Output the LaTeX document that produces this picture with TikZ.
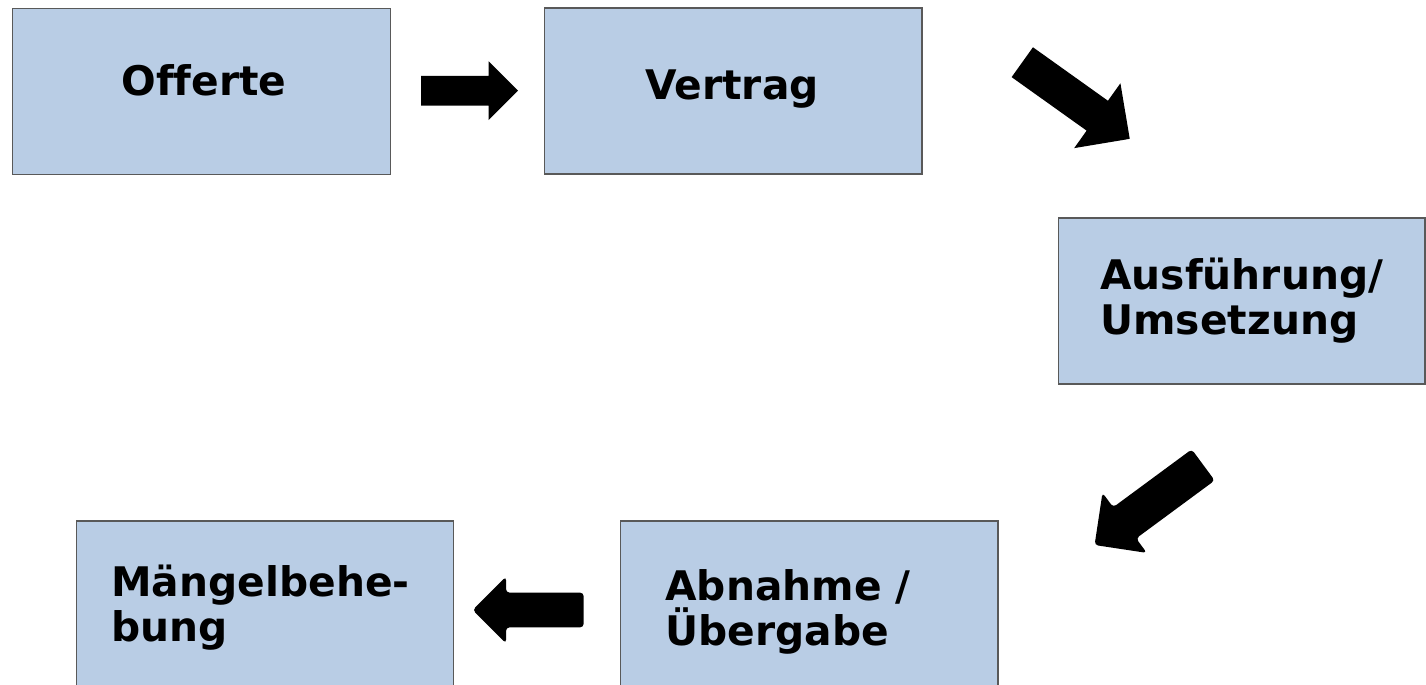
\documentclass[tikz,border=0pt]{standalone}
\usepackage{fontspec}
\setmainfont[Ligatures=NoCommon]{DejaVu Sans}
\usetikzlibrary{shapes.arrows}
\definecolor{boxblue}{HTML}{B9CDE5}
\definecolor{boxline}{HTML}{595959}

\begin{document}
\begin{tikzpicture}[
    x=0.02cm, y=-0.02cm,
    box/.style={draw=boxline, line width=0.6pt, rectangle, fill=boxblue, minimum width=7.56cm, minimum height=3.32cm, inner sep=0pt},
    boxtext/.style={font=\bfseries\fontsize{23.2}{25.5}\selectfont, inner sep=0pt},
    fatarrow/.style={single arrow, fill=black, inner sep=0pt, minimum width=0pt, single arrow tip angle=90, anchor=tail}
]
  \useasboundingbox (0,0) rectangle (1426,685);
  \clip (0,0) rectangle (1426,685);

  % Boxes
  \node (offerte) [box] at (201.5,91.5) {};
  \node (vertrag) [box] at (733,91) {};
  \node (ausf) [box, minimum width=7.34cm] at (1241.5,301) {};
  \node (abnahme) [box] at (809,604) {};
  \node (maengel) [box] at (265,604) {};

  % Texts
  \node (offerte-txt) [boxtext, anchor=base] at (204,96) {Offerte};
  \node (vertrag-txt) [boxtext, anchor=base] at (732,100) {Vertrag};
  \node (ausf-txt) [boxtext, anchor=north west, align=left] at (1100,258) {Ausführung/\\Umsetzung};
  \node (abnahme-txt) [boxtext, anchor=north west, align=left] at (665,569) {Abnahme /\\Übergabe};
  \node (maengel-txt) [boxtext, anchor=north west, align=left] at (111,565) {Mängelbehe-\\bung};

  % Block arrows
  \node (to-vertrag) [fatarrow, minimum height=1.94cm, inner ysep=0.29cm, single arrow head extend=0.29cm] at (420.7,90.7) {};
  \node (to-ausf) [fatarrow, rotate=-35.5, minimum height=2.64cm, inner ysep=0.36cm, single arrow head extend=0.43cm] at (1022,62) {};
  \node (to-abnahme) [fatarrow, rotate=-143.6, rounded corners=2pt, minimum height=2.7cm, inner ysep=0.38cm, single arrow head extend=0.36cm] at (1203.5,464.7) {};
  \node (to-maengel) [fatarrow, rotate=180, rounded corners=2pt, minimum height=2.22cm, inner ysep=0.34cm, single arrow head extend=0.32cm] at (584,610) {};
\end{tikzpicture}
\end{document}
